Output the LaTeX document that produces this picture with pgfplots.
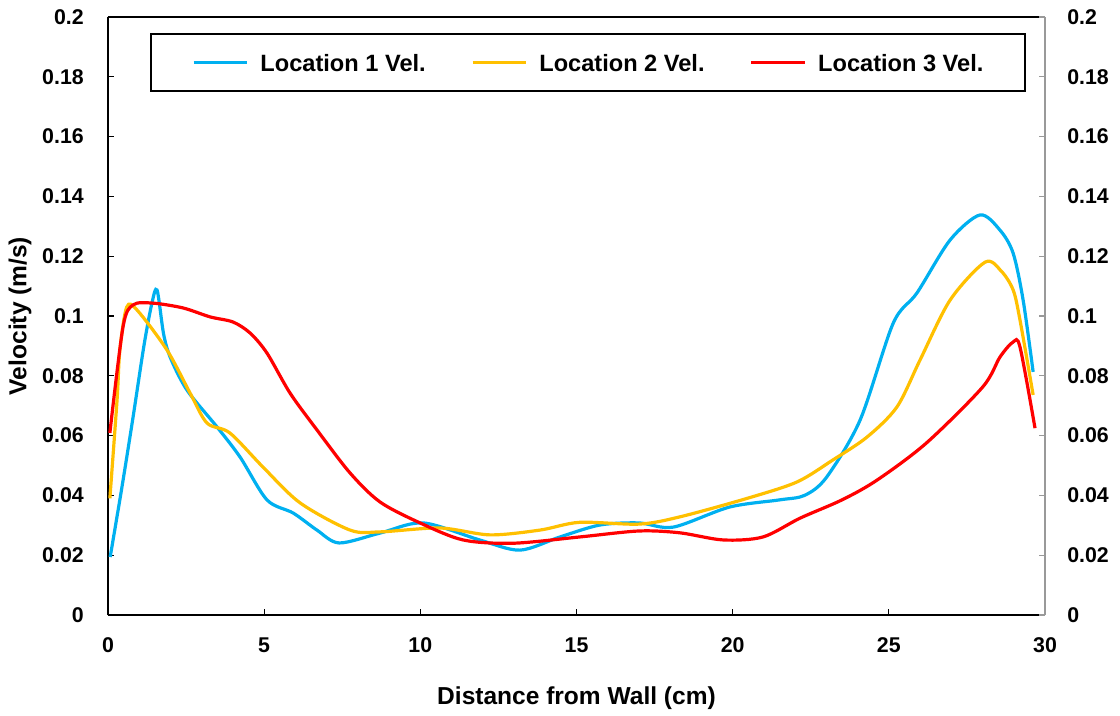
\documentclass[border=0pt]{standalone}
\usepackage{fontspec}
\setmainfont{Liberation Sans}
\usepackage{pgfplots}
\pgfplotsset{compat=1.18}
\definecolor{cblue}{HTML}{00B0F0}
\definecolor{cyel}{HTML}{FFC000}
\definecolor{cred}{HTML}{FF0000}
\begin{document}
\begin{tikzpicture}
\pgfplotsset{
  common/.style={
    scale only axis, width=702.75pt, height=448.5pt,
    xmin=0, xmax=30, ymin=0, ymax=0.2,
    ytick={0,0.02,...,0.2},
    scaled y ticks=false,
    yticklabel={\pgfmathprintnumber[fixed,precision=2]{\tick}},
    /pgf/number format/assume math mode=true,
    ticklabel style={font=\bfseries\fontsize{16}{16}\selectfont, inner sep=0pt},
    tick align=inside,
    major tick length=4.5pt,
    every tick/.style={line width=0.8pt},
  }
}
\begin{axis}[common,
  axis x line*=bottom, axis y line*=left,
  axis line style={black, line width=1.1pt, -},
  xtick={0,5,...,30},
  every tick/.append style={black},
  yticklabel style={anchor=east, xshift=-18pt},
  xticklabel style={anchor=north, yshift=-17pt},
  xlabel={Distance from Wall (cm)},
  ylabel={Velocity (m/s)},
  label style={font=\bfseries\fontsize{18.4}{18.4}\selectfont},
  xlabel style={at={(axis description cs:0.5,-0.139)}, anchor=center},
  ylabel style={at={(axis description cs:-0.094,0.5)}, anchor=center},
  legend columns=3,
  legend style={at={(axis description cs:0.045,0.973)}, anchor=north west,
    draw=black, line width=1.1pt, inner xsep=31pt, inner ysep=15pt,
    font=\bfseries\fontsize{17.7}{17.7}\selectfont,
    nodes={inner sep=0pt, text height=13pt, text depth=0pt},
    /tikz/every odd column/.append style={column sep=9pt},
    /tikz/every even column/.append style={column sep=34pt}},
  legend image code/.code={\draw[#1, line width=2.2pt] (0pt,0pt) -- (40pt,0pt);},
]
\draw[black, line width=1.1pt] (rel axis cs:0,1) -- (rel axis cs:1,1);
\addplot[cblue, line width=2.4pt, smooth] coordinates {
(0.07,0.0194) (0.45,0.043) (0.8,0.066) (1.15,0.090) (1.4,0.104) (1.57,0.1087) (1.78,0.094) (2.0,0.086)
(2.53,0.0752) (3.49,0.0629) (4.23,0.0528) (5.09,0.0385) (5.93,0.0341) (6.69,0.0284) (7.4,0.0241)
(8.71,0.0274) (10.09,0.0308) (11.9,0.0251) (13.19,0.0217) (14.47,0.0261) (15.75,0.0301)
(17.0,0.0308) (18.1,0.0294) (19.9,0.0361) (21.5,0.0385) (22.3,0.040) (23.0,0.046) (24.08,0.0652)
(25.14,0.0976) (25.9,0.1077) (26.96,0.1254) (27.92,0.1338) (28.56,0.1287) (28.98,0.121)
(29.3,0.1053) (29.62,0.0813)};
\addlegendentry{Location 1 Vel.}
\addplot[cyel, line width=2.4pt, smooth] coordinates {
(0.06,0.039) (0.29,0.0719) (0.38,0.0886) (0.6,0.103) (0.93,0.102) (1.89,0.0886) (2.63,0.0742)
(3.17,0.0642) (3.9,0.0609) (4.96,0.0495) (6.15,0.0375) (7.75,0.0284) (8.71,0.0278) (10.63,0.0291)
(12.23,0.0268) (13.83,0.0284) (15.1,0.031) (17.0,0.0304) (18.3,0.0328) (20.46,0.039) (22.06,0.0445)
(23.2,0.0518) (24.3,0.0595) (25.26,0.0696) (26.0,0.0853) (26.96,0.1053) (28.08,0.118) (28.6,0.115)
(28.98,0.1087) (29.2,0.0986) (29.62,0.0736)};
\addlegendentry{Location 2 Vel.}
\addplot[cred, line width=2.4pt, smooth] coordinates {
(0.06,0.0609) (0.48,0.0963) (0.8,0.1037) (1.44,0.1043) (2.4,0.1027) (3.27,0.0997) (4.0,0.098)
(4.55,0.0943) (5.09,0.0876) (5.83,0.0742) (6.69,0.0619) (7.75,0.0475) (8.71,0.0378) (9.99,0.0308)
(11.37,0.0251) (12.97,0.024) (15.1,0.0261) (17.0,0.0281) (18.3,0.0275) (19.7,0.0251) (20.97,0.0261)
(22.16,0.0324) (23.5,0.0385) (24.62,0.0451) (26.2,0.0575) (28.0,0.0762) (28.56,0.0863)
(28.98,0.0913) (29.2,0.0896) (29.68,0.0625)};
\addlegendentry{Location 3 Vel.}
\end{axis}
\begin{axis}[common,
  axis x line=none, axis y line*=right,
  axis line style={gray!80, line width=1.1pt, -},
  every tick/.append style={gray!80},
  yticklabel style={anchor=west, xshift=16.5pt},
]
\end{axis}
\useasboundingbox (-81pt,-75pt) rectangle (759pt,461.25pt);
\end{tikzpicture}
\end{document}
